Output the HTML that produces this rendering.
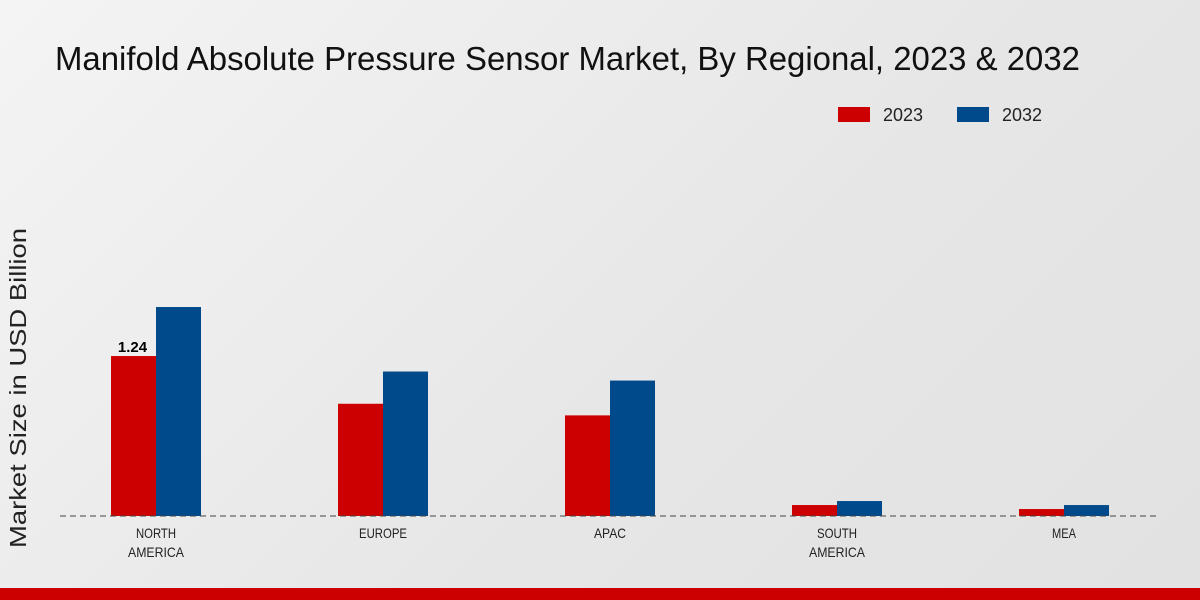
<!DOCTYPE html>
<html><head><meta charset="utf-8"><style>
html,body{margin:0;padding:0;width:1200px;height:600px;overflow:hidden}
body{background:linear-gradient(135deg,#f4f4f4 0%,#e6e6e6 60%,#e2e2e2 100%);font-family:"Liberation Sans",sans-serif}
</style></head><body>
<svg width="1200" height="600" xmlns="http://www.w3.org/2000/svg">
<text x="55" y="70" font-size="33" fill="#111" textLength="1025" lengthAdjust="spacingAndGlyphs" font-family="'Liberation Sans Narrow','Liberation Sans',sans-serif">Manifold Absolute Pressure Sensor Market, By Regional, 2023 &amp; 2032</text>
<g>
<rect x="838" y="107" width="32" height="15" fill="#cc0000"/>
<text x="883" y="121" font-size="18" fill="#222" textLength="40" lengthAdjust="spacingAndGlyphs">2023</text>
<rect x="957" y="107" width="32" height="15" fill="#004a8c"/>
<text x="1002" y="121" font-size="18" fill="#222" textLength="40" lengthAdjust="spacingAndGlyphs">2032</text>
</g>
<text transform="translate(26,388) rotate(-90)" text-anchor="middle" font-size="23" fill="#222" textLength="320" lengthAdjust="spacingAndGlyphs">Market Size in USD Billion</text>
<g id="bars"></g>
<line x1="60" y1="516" x2="1160" y2="516" stroke="#444" stroke-dasharray="6,4"/>
<g id="labels"></g>
<rect x="0" y="588" width="1200" height="12" fill="#cc0000"/>
</svg>
<script>
const categories=[["NORTH","AMERICA"],["EUROPE"],["APAC"],["SOUTH","AMERICA"],["MEA"]];
const values2023=[1.24,0.87,0.78,0.085,0.054];
const values2032=[1.62,1.12,1.05,0.116,0.085];
const shownLabels=["1.24","","","",""];
const NS="http://www.w3.org/2000/svg";
const base=516, scale=129, x0=156, step=227, bw=45;
const xc=i=>x0+i*step, yv=v=>base-v*scale;
const bars=document.getElementById('bars'), labels=document.getElementById('labels');
categories.forEach((c,i)=>{
  [[values2023,'#cc0000',-bw,'2023'],[values2032,'#004a8c',0,'2032']].forEach(([arr,col,off,yr])=>{
    const r=document.createElementNS(NS,'rect');
    r.setAttribute('x',xc(i)+off);r.setAttribute('y',yv(arr[i]));
    r.setAttribute('width',bw);r.setAttribute('height',base-yv(arr[i]));r.setAttribute('fill',col);
    
    
    bars.appendChild(r);
  });
  if(shownLabels[i]){
    const t=document.createElementNS(NS,'text');
    t.setAttribute('x',xc(i)-bw/2-1);t.setAttribute('y',yv(values2023[i])-4);
    t.setAttribute('text-anchor','middle');t.setAttribute('font-size','15');t.setAttribute('font-weight','bold');
    t.textContent=shownLabels[i];
    
    
    labels.appendChild(t);
  }
  c.forEach((line,j)=>{
    const t=document.createElementNS(NS,'text');
    t.setAttribute('x',xc(i));t.setAttribute('y',538+j*19);
    t.setAttribute('text-anchor','middle');t.setAttribute('font-size','14');t.setAttribute('fill','#222');
    t.setAttribute('textLength',line.length*8);t.setAttribute('lengthAdjust','spacingAndGlyphs');
    t.textContent=line;
    
    
    labels.appendChild(t);
  });
});
</script>
</body></html>
